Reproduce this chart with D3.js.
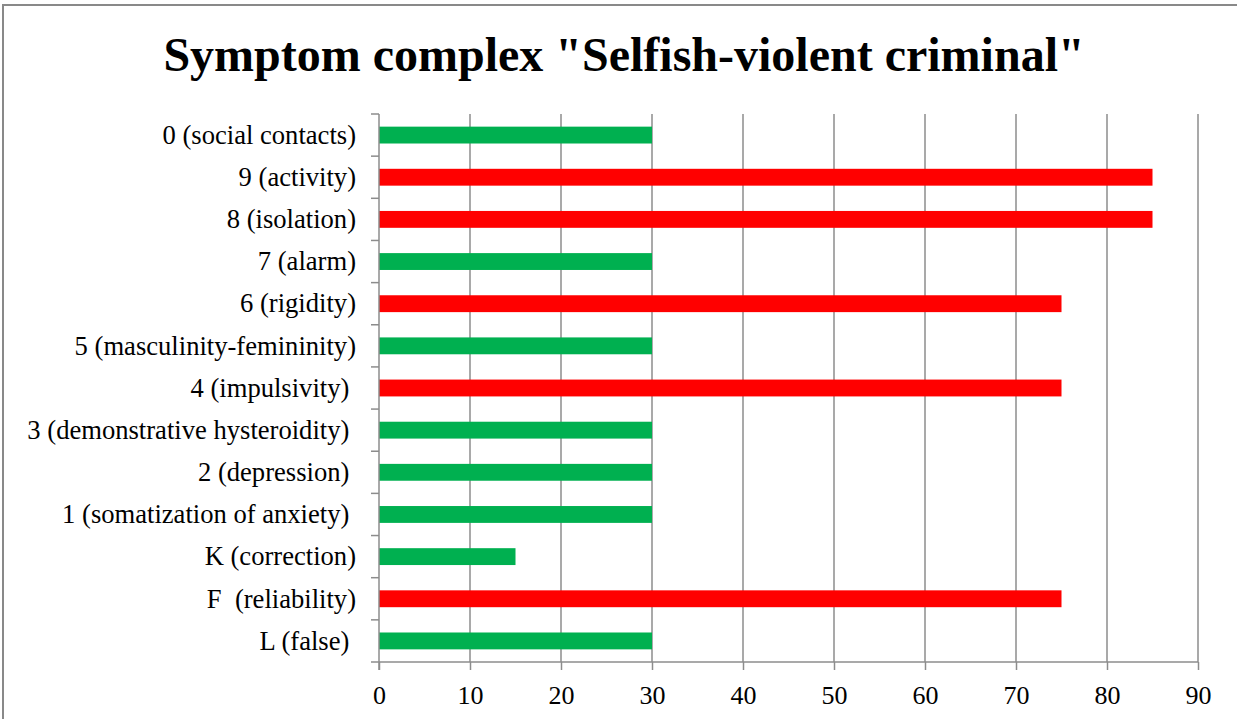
<!DOCTYPE html>
<html><head><meta charset="utf-8">
<script src="https://cdn.jsdelivr.net/npm/d3@7"></script>
<style>html,body{margin:0;padding:0;background:#fff;overflow:hidden}</style>
</head><body><svg id="c" width="1237" height="719"></svg>
<script>
const categories = ["0 (social contacts)","9 (activity)","8 (isolation)","7 (alarm)","6 (rigidity)","5 (masculinity-femininity)","4 (impulsivity) ","3 (demonstrative hysteroidity) ","2 (depression) ","1 (somatization of anxiety) ","K (correction)","F  (reliability)","L (false) "];
const values = [30,85,85,30,75,30,75,30,30,30,15,75,30];
const xTicks = [0,10,20,30,40,50,60,70,80,90];
const title = 'Symptom complex "Selfish-violent criminal"';

const svg = d3.select("#c");
const font = "'Liberation Serif','Times New Roman',serif";
// frame
svg.append("rect").attr("x",3).attr("y",5).attr("width",1300).attr("height",800)
  .attr("fill","#fff").attr("stroke","#898989").attr("stroke-width",2);

const x = d3.scaleLinear().domain([0,90]).range([379,1198]);
const y = d3.scaleBand().domain(categories).range([114,662]).paddingInner(0.6).paddingOuter(0.3);
const yb = d3.scaleBand().domain(categories).range([114,662]);

svg.append("text").attr("x",624).attr("y",71).attr("text-anchor","middle")
  .attr("font-family",font).attr("font-weight","bold").attr("font-size",48).text(title);

const grid = "#8c8c8c";
svg.append("g").selectAll("line").data(xTicks.slice(1)).join("line")
  .attr("x1",d=>x(d)).attr("x2",d=>x(d)).attr("y1",114).attr("y2",662)
  .attr("stroke",grid).attr("stroke-width",1.5);

svg.append("g").selectAll("rect").data(values).join("rect")
  .attr("x",x(0)).attr("y",(d,i)=>y(categories[i]))
  .attr("width",d=>x(d)-x(0)).attr("height",y.bandwidth())
  .attr("fill",d=>d>=70?"#ff0000":"#00b050");

// x axis
const xa = svg.append("g").attr("transform","translate(0,662)")
  .call(d3.axisBottom(x).tickValues(xTicks).tickSize(8).tickPadding(0));
xa.select(".domain").attr("stroke",grid).attr("stroke-width",1.5).attr("d",`M${x(0)},0H${x(90)}`);
xa.selectAll(".tick line").attr("stroke",grid).attr("stroke-width",1.5);
xa.selectAll("text").attr("font-family",font).attr("font-size",26).attr("fill","#000").attr("y",42).attr("dy",0);

// y axis
const ya = svg.append("g");
ya.append("line").attr("x1",379).attr("x2",379).attr("y1",114).attr("y2",670).attr("stroke",grid).attr("stroke-width",1.5);
const bounds = categories.map(c=>yb(c)).concat([662]);
ya.selectAll("line.t").data(bounds).join("line").attr("class","t")
  .attr("x1",371).attr("x2",379).attr("y1",d=>d).attr("y2",d=>d).attr("stroke",grid).attr("stroke-width",1.5);
ya.selectAll("text").data(categories).join("text")
  .attr("x",356).attr("y",d=>yb(d)+yb.bandwidth()/2).attr("dy","0.33em")
  .attr("text-anchor","end").attr("font-family",font).attr("font-size",26.6)
  .style("white-space","pre").attr("xml:space","preserve").text(d=>d);
</script></body></html>
